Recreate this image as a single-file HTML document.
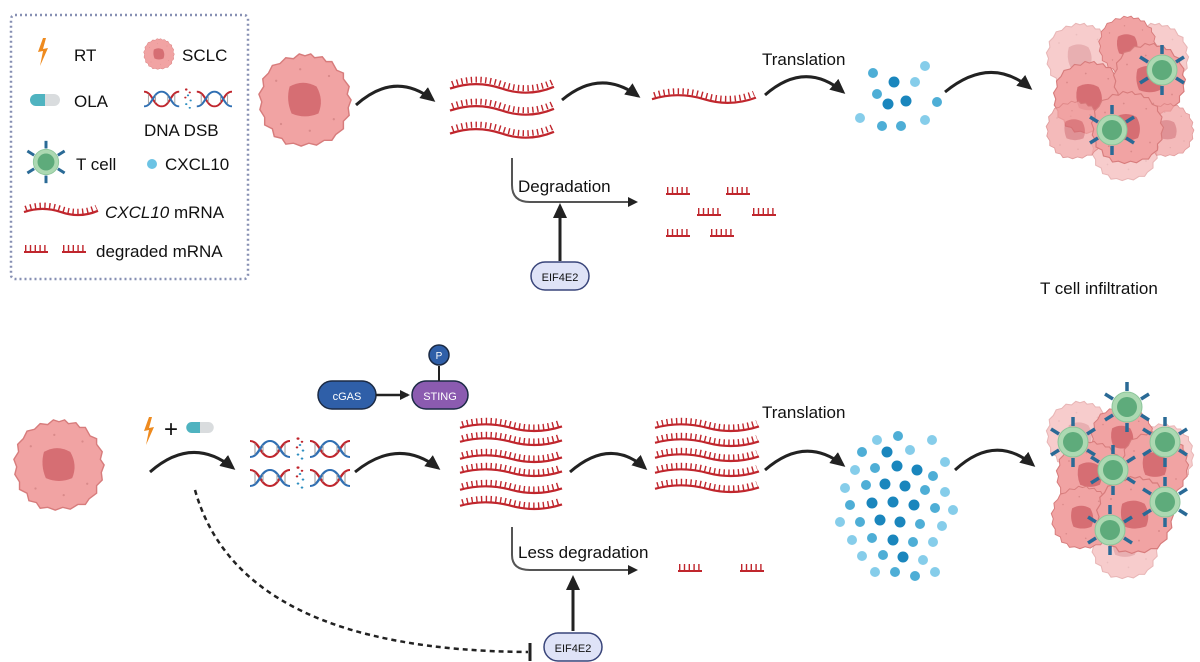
<!DOCTYPE html>
<html><head><meta charset="utf-8"><style>
html,body{margin:0;padding:0;background:#fff}
svg{display:block}
text{font-family:"Liberation Sans",Arial,sans-serif;fill:#111}
</style></head><body>
<svg width="1200" height="662" viewBox="0 0 1200 662" xmlns="http://www.w3.org/2000/svg">
<defs>
<marker id="ah" markerWidth="10" markerHeight="10" refX="8" refY="5" orient="auto" markerUnits="userSpaceOnUse">
<path d="M0,0 L10,5 L0,10 z" fill="#222"/></marker>
<marker id="ah2" markerWidth="16" markerHeight="16" refX="12" refY="8" orient="auto" markerUnits="userSpaceOnUse">
<path d="M0,1 L15,8 L0,15 z" fill="#222"/></marker>
<symbol id="mrna" viewBox="0 0 100 20" preserveAspectRatio="none" overflow="visible">
<path d="M0,14 Q25,4 50,14 T100,12" fill="none" stroke="#c0262d" stroke-width="2.2" vector-effect="non-scaling-stroke"/>
<path d="M2,9 Q25,-1 50,9 T98,7" fill="none" stroke="#c0262d" stroke-width="6" stroke-dasharray="1.4 3.4" vector-effect="non-scaling-stroke"/>
</symbol>
<symbol id="frag" viewBox="0 0 24 10" overflow="visible">
<line x1="0" y1="8" x2="24" y2="8" stroke="#c0262d" stroke-width="2"/>
<line x1="1" y1="4" x2="24" y2="4" stroke="#c0262d" stroke-width="6" stroke-dasharray="1.4 3.4"/>
</symbol>
<symbol id="cell" viewBox="-50 -50 100 100" overflow="visible">
<path d="M0,-46 L6,-48 10,-44 18,-45 22,-40 28,-40 33,-31 40,-28 40,-22 46,-14 44,-6 48,0 45,8 46,16 40,22 40,30 32,36 28,42 20,42 12,47 4,45 -4,48 -12,45 -20,46 -24,40 -32,38 -34,30 -42,26 -42,18 -47,10 -45,2 -48,-6 -43,-14 -44,-22 -38,-28 -34,-36 -26,-38 -20,-44 -12,-43 -6,-48z" fill="#f1a3a3" stroke="#d77c7c" stroke-width="1.5"/>
<path d="M-16,-14 Q-2,-22 12,-14 Q20,0 14,14 Q0,20 -14,14 Q-20,0 -16,-14z" fill="#d66e73"/>
<g fill="#d98a8a"><circle cx="-30" cy="-20" r="1.2"/><circle cx="25" cy="-25" r="1.2"/><circle cx="30" cy="20" r="1.2"/><circle cx="-25" cy="25" r="1.2"/><circle cx="5" cy="32" r="1.2"/><circle cx="-5" cy="-32" r="1.2"/></g>
</symbol>
<symbol id="tcell" viewBox="-26 -26 52 52" overflow="visible">
<g stroke="#2a6a96" stroke-width="3.5">
<line x1="0" y1="-16" x2="0" y2="-25"/><line x1="0" y1="16" x2="0" y2="25"/>
<line x1="14" y1="-8" x2="22" y2="-13"/><line x1="-14" y1="-8" x2="-22" y2="-13"/>
<line x1="14" y1="8" x2="22" y2="13"/><line x1="-14" y1="8" x2="-22" y2="13"/>
</g>
<circle r="15" fill="#acd9b2" stroke="#8cc59a"/>
<circle r="10" fill="#5eab7b"/>
</symbol>
<symbol id="dna" viewBox="0 0 100 30" preserveAspectRatio="none" overflow="visible">
<g fill="none" stroke-width="2.5">
<path d="M0,5 C10,5 10,25 20,25 S30,5 40,5" stroke="#c0262d"/>
<path d="M0,25 C10,25 10,5 20,5 S30,25 40,25" stroke="#2f6fb3"/>
<path d="M60,5 C70,5 70,25 80,25 S90,5 100,5" stroke="#c0262d"/>
<path d="M60,25 C70,25 70,5 80,5 S90,25 100,25" stroke="#2f6fb3"/>
</g>
<g stroke="#999" stroke-width="1"><line x1="5" y1="8" x2="5" y2="22"/><line x1="13" y1="10" x2="13" y2="20"/><line x1="27" y1="10" x2="27" y2="20"/><line x1="35" y1="8" x2="35" y2="22"/><line x1="65" y1="8" x2="65" y2="22"/><line x1="73" y1="10" x2="73" y2="20"/><line x1="87" y1="10" x2="87" y2="20"/><line x1="95" y1="8" x2="95" y2="22"/></g>
<g fill="#c0262d"><circle cx="48" cy="2" r="1.5"/><circle cx="52" cy="6" r="1.3"/><circle cx="47" cy="13" r="1.3"/></g>
<g fill="#2f8fc0"><circle cx="50" cy="10" r="1.3"/><circle cx="53" cy="17" r="1.3"/><circle cx="48" cy="22" r="1.3"/><circle cx="52" cy="27" r="1.3"/></g>
</symbol>
<symbol id="bolt" viewBox="0 0 12 28" overflow="visible"><path d="M6,0 L1,14 L6,13 L3,28 L11,10 L6,11 L9,0z" fill="#ee8a1e"/></symbol>
<symbol id="pill" viewBox="0 0 30 12" overflow="visible"><path d="M6,0 H15 V12 H6 A6,6 0 0 1 6,0z" fill="#4fb3c0"/><path d="M15,0 H24 A6,6 0 0 1 24,12 H15z" fill="#d9dcde"/></symbol>
</defs>

<!-- legend -->
<rect x="11" y="15" width="237" height="264" rx="4" fill="none" stroke="#8790b3" stroke-width="2.5" stroke-dasharray="2 3"/>
<use href="#bolt" x="37" y="37" width="12" height="30"/>
<text x="74" y="61" font-size="17">RT</text>
<use href="#cell" x="143" y="38" width="32" height="32"/>
<text x="182" y="61" font-size="17">SCLC</text>
<use href="#pill" x="30" y="94" width="30" height="12"/>
<text x="74" y="107" font-size="17">OLA</text>
<use href="#dna" x="144" y="88" width="88" height="22"/>
<text x="144" y="136" font-size="17">DNA DSB</text>
<use href="#tcell" x="24" y="140" width="44" height="44"/>
<text x="76" y="170" font-size="17">T cell</text>
<circle cx="152" cy="164" r="5" fill="#6cc3e4"/>
<text x="165" y="170" font-size="17">CXCL10</text>
<use href="#mrna" x="24" y="203" width="74" height="13"/>
<text x="105" y="218" font-size="17"><tspan font-style="italic">CXCL10</tspan> mRNA</text>
<use href="#frag" x="24" y="244" width="24" height="10"/>
<use href="#frag" x="62" y="244" width="24" height="10"/>
<text x="96" y="257" font-size="17">degraded mRNA</text>

<!-- top row -->
<use href="#cell" x="257" y="52" width="96" height="96"/>
<path d="M356,105 Q395,70 433,100" fill="none" stroke="#222" stroke-width="3" marker-end="url(#ah2)"/>
<use href="#mrna" x="450" y="76" width="104" height="18"/>
<use href="#mrna" x="450" y="98" width="104" height="18"/>
<use href="#mrna" x="450" y="121" width="104" height="18"/>
<path d="M562,100 Q600,68 638,96" fill="none" stroke="#222" stroke-width="3" marker-end="url(#ah2)"/>
<use href="#mrna" x="652" y="88" width="104" height="16"/>
<text x="762" y="65" font-size="17">Translation</text>
<path d="M765,95 Q805,60 843,92" fill="none" stroke="#222" stroke-width="3" marker-end="url(#ah2)"/>
<g>
<circle cx="873" cy="73" r="5" fill="#4eaed6"/><circle cx="925" cy="66" r="5" fill="#86cdea"/>
<circle cx="894" cy="82" r="5.5" fill="#1a86bd"/><circle cx="915" cy="82" r="5" fill="#86cdea"/>
<circle cx="877" cy="94" r="5" fill="#4eaed6"/><circle cx="888" cy="104" r="5.5" fill="#1a86bd"/>
<circle cx="906" cy="101" r="5.5" fill="#1a86bd"/><circle cx="937" cy="102" r="5" fill="#4eaed6"/>
<circle cx="860" cy="118" r="5" fill="#86cdea"/><circle cx="882" cy="126" r="5" fill="#4eaed6"/>
<circle cx="901" cy="126" r="5" fill="#4eaed6"/><circle cx="925" cy="120" r="5" fill="#86cdea"/>
</g>
<path d="M945,92 Q990,55 1030,88" fill="none" stroke="#222" stroke-width="3" marker-end="url(#ah2)"/>
<g opacity="0.55"><use href="#cell" x="1045" y="22" width="70" height="70"/><use href="#cell" x="1120" y="22" width="70" height="70"/><use href="#cell" x="1090" y="112" width="70" height="70"/></g>
<use href="#cell" x="1095" y="15" width="65" height="60"/>
<use href="#cell" x="1052" y="60" width="75" height="75"/>
<use href="#cell" x="1112" y="42" width="75" height="75"/>
<g opacity="0.75"><use href="#cell" x="1045" y="100" width="60" height="60"/><use href="#cell" x="1140" y="100" width="55" height="60"/></g>
<use href="#cell" x="1090" y="90" width="75" height="75"/>
<use href="#tcell" x="1136" y="44" width="52" height="52"/>
<use href="#tcell" x="1086" y="104" width="52" height="52"/>
<text x="1040" y="294" font-size="17">T cell infiltration</text>

<!-- degradation -->
<path d="M512,158 V185 Q512,202 530,202 H636" fill="none" stroke="#555" stroke-width="2" marker-end="url(#ah)"/>
<text x="518" y="192" font-size="17">Degradation</text>
<use href="#frag" x="666" y="186" width="24" height="10"/>
<use href="#frag" x="726" y="186" width="24" height="10"/>
<use href="#frag" x="697" y="207" width="24" height="10"/>
<use href="#frag" x="752" y="207" width="24" height="10"/>
<use href="#frag" x="666" y="228" width="24" height="10"/>
<use href="#frag" x="710" y="228" width="24" height="10"/>
<line x1="560" y1="261" x2="560" y2="206" stroke="#222" stroke-width="3" marker-end="url(#ah2)"/>
<rect x="531" y="262" width="58" height="28" rx="14" fill="#dfe3f7" stroke="#39457a" stroke-width="1.5"/>
<text x="560" y="281" font-size="11" text-anchor="middle">EIF4E2</text>

<!-- bottom row -->
<use href="#cell" x="12" y="418" width="94" height="94"/>
<use href="#bolt" x="143" y="417" width="12" height="28"/>
<text x="164" y="437" font-size="24">+</text>
<use href="#pill" x="186" y="422" width="28" height="11"/>
<path d="M150,472 Q192,435 233,468" fill="none" stroke="#222" stroke-width="3" marker-end="url(#ah2)"/>
<use href="#dna" x="250" y="437" width="100" height="24"/>
<use href="#dna" x="250" y="466" width="100" height="24"/>
<path d="M355,472 Q398,437 438,468" fill="none" stroke="#222" stroke-width="3" marker-end="url(#ah2)"/>
<use href="#mrna" x="460" y="418" width="102" height="14"/>
<use href="#mrna" x="460" y="432" width="102" height="14"/>
<use href="#mrna" x="460" y="449" width="102" height="14"/>
<use href="#mrna" x="460" y="463" width="102" height="14"/>
<use href="#mrna" x="460" y="480" width="102" height="14"/>
<use href="#mrna" x="460" y="496" width="102" height="14"/>
<path d="M570,472 Q610,437 645,468" fill="none" stroke="#222" stroke-width="3" marker-end="url(#ah2)"/>
<use href="#mrna" x="655" y="418" width="104" height="14"/>
<use href="#mrna" x="655" y="433" width="104" height="14"/>
<use href="#mrna" x="655" y="448" width="104" height="14"/>
<use href="#mrna" x="655" y="463" width="104" height="14"/>
<use href="#mrna" x="655" y="479" width="104" height="14"/>
<text x="762" y="418" font-size="17">Translation</text>
<path d="M765,470 Q805,435 843,465" fill="none" stroke="#222" stroke-width="3" marker-end="url(#ah2)"/>
<g>
<circle cx="877" cy="440" r="5" fill="#86cdea"/><circle cx="898" cy="436" r="5" fill="#4eaed6"/><circle cx="932" cy="440" r="5" fill="#86cdea"/>
<circle cx="862" cy="452" r="5" fill="#4eaed6"/><circle cx="887" cy="452" r="5.5" fill="#1a86bd"/><circle cx="910" cy="450" r="5" fill="#86cdea"/><circle cx="945" cy="462" r="5" fill="#86cdea"/>
<circle cx="855" cy="470" r="5" fill="#86cdea"/><circle cx="875" cy="468" r="5" fill="#4eaed6"/><circle cx="897" cy="466" r="5.5" fill="#1a86bd"/><circle cx="917" cy="470" r="5.5" fill="#1a86bd"/><circle cx="933" cy="476" r="5" fill="#4eaed6"/>
<circle cx="845" cy="488" r="5" fill="#86cdea"/><circle cx="866" cy="485" r="5" fill="#4eaed6"/><circle cx="885" cy="484" r="5.5" fill="#1a86bd"/><circle cx="905" cy="486" r="5.5" fill="#1a86bd"/><circle cx="925" cy="490" r="5" fill="#4eaed6"/><circle cx="945" cy="492" r="5" fill="#86cdea"/>
<circle cx="850" cy="505" r="5" fill="#4eaed6"/><circle cx="872" cy="503" r="5.5" fill="#1a86bd"/><circle cx="893" cy="502" r="5.5" fill="#1a86bd"/><circle cx="914" cy="505" r="5.5" fill="#1a86bd"/><circle cx="935" cy="508" r="5" fill="#4eaed6"/><circle cx="953" cy="510" r="5" fill="#86cdea"/>
<circle cx="840" cy="522" r="5" fill="#86cdea"/><circle cx="860" cy="522" r="5" fill="#4eaed6"/><circle cx="880" cy="520" r="5.5" fill="#1a86bd"/><circle cx="900" cy="522" r="5.5" fill="#1a86bd"/><circle cx="920" cy="524" r="5" fill="#4eaed6"/><circle cx="942" cy="526" r="5" fill="#86cdea"/>
<circle cx="852" cy="540" r="5" fill="#86cdea"/><circle cx="872" cy="538" r="5" fill="#4eaed6"/><circle cx="893" cy="540" r="5.5" fill="#1a86bd"/><circle cx="913" cy="542" r="5" fill="#4eaed6"/><circle cx="933" cy="542" r="5" fill="#86cdea"/>
<circle cx="862" cy="556" r="5" fill="#86cdea"/><circle cx="883" cy="555" r="5" fill="#4eaed6"/><circle cx="903" cy="557" r="5.5" fill="#1a86bd"/><circle cx="923" cy="560" r="5" fill="#86cdea"/>
<circle cx="875" cy="572" r="5" fill="#86cdea"/><circle cx="895" cy="572" r="5" fill="#4eaed6"/><circle cx="915" cy="576" r="5" fill="#4eaed6"/><circle cx="935" cy="572" r="5" fill="#86cdea"/>
</g>
<path d="M955,470 Q995,433 1033,465" fill="none" stroke="#222" stroke-width="3" marker-end="url(#ah2)"/>
<g opacity="0.55"><use href="#cell" x="1045" y="400" width="70" height="70"/><use href="#cell" x="1130" y="420" width="65" height="70"/><use href="#cell" x="1090" y="510" width="70" height="70"/></g>
<use href="#cell" x="1090" y="405" width="65" height="65"/>
<use href="#cell" x="1055" y="440" width="70" height="70"/>
<use href="#cell" x="1120" y="430" width="70" height="70"/>
<use href="#cell" x="1050" y="485" width="65" height="65"/>
<use href="#cell" x="1095" y="475" width="80" height="80"/>
<use href="#tcell" x="1101" y="381" width="52" height="52"/>
<use href="#tcell" x="1047" y="416" width="52" height="52"/>
<use href="#tcell" x="1139" y="416" width="52" height="52"/>
<use href="#tcell" x="1087" y="444" width="52" height="52"/>
<use href="#tcell" x="1139" y="476" width="52" height="52"/>
<use href="#tcell" x="1084" y="504" width="52" height="52"/>

<!-- cGAS STING -->
<rect x="318" y="381" width="58" height="28" rx="14" fill="#2f5fa8" stroke="#1b2a44" stroke-width="1.5"/>
<text x="347" y="400" font-size="11" text-anchor="middle" style="fill:#fff">cGAS</text>
<line x1="376" y1="395" x2="408" y2="395" stroke="#222" stroke-width="2.5" marker-end="url(#ah)"/>
<rect x="412" y="381" width="56" height="28" rx="14" fill="#8b5bb0" stroke="#1b2a44" stroke-width="1.5"/>
<text x="440" y="400" font-size="11" text-anchor="middle" style="fill:#fff">STING</text>
<line x1="439" y1="366" x2="439" y2="381" stroke="#222" stroke-width="2"/>
<circle cx="439" cy="355" r="10" fill="#2f5fa8" stroke="#1b2a44" stroke-width="1.5"/>
<text x="439" y="359" font-size="10" text-anchor="middle" style="fill:#fff">P</text>

<!-- less degradation -->
<path d="M512,527 V555 Q512,570 530,570 H636" fill="none" stroke="#555" stroke-width="2" marker-end="url(#ah)"/>
<text x="518" y="558" font-size="17">Less degradation</text>
<use href="#frag" x="678" y="563" width="24" height="10"/>
<use href="#frag" x="740" y="563" width="24" height="10"/>
<line x1="573" y1="631" x2="573" y2="578" stroke="#222" stroke-width="3" marker-end="url(#ah2)"/>
<rect x="544" y="633" width="58" height="28" rx="14" fill="#dfe3f7" stroke="#39457a" stroke-width="1.5"/>
<text x="573" y="652" font-size="11" text-anchor="middle">EIF4E2</text>
<path d="M195,490 Q240,650 528,652" fill="none" stroke="#222" stroke-width="2.5" stroke-dasharray="5 4"/>
<line x1="530" y1="643" x2="530" y2="661" stroke="#222" stroke-width="3"/>
</svg>
</body></html>
